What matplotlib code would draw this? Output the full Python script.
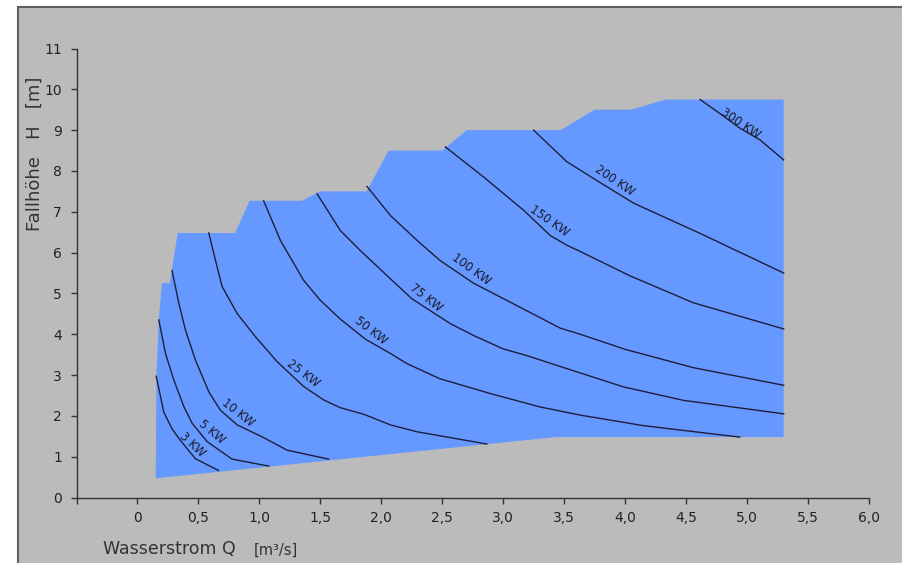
import matplotlib
matplotlib.use('Agg')
import matplotlib.pyplot as plt
from matplotlib.patches import Rectangle

# ---------------- data ----------------
# operating region (Q [m3/s], H [m])
region_Q = [0.15, 3.43, 5.30, 5.30, 4.33, 4.05, 3.75, 3.47, 2.70, 2.50, 2.06, 1.88,
            1.50, 1.35, 0.92, 0.80, 0.33, 0.265, 0.20, 0.175, 0.155, 0.15]
region_H = [0.47, 1.48, 1.48, 9.75, 9.75, 9.50, 9.50, 9.00, 9.00, 8.50, 8.50, 7.50,
            7.50, 7.27, 7.27, 6.48, 6.48, 5.25, 5.25, 4.35, 2.95, 0.47]

# iso-power lines
q_3kw = [0.154, 0.216, 0.284, 0.352, 0.475, 0.666]
h_3kw = [2.97, 2.09, 1.68, 1.40, 0.95, 0.66]

q_5kw = [0.175, 0.230, 0.298, 0.380, 0.448, 0.571, 0.776, 1.077]
h_5kw = [4.35, 3.53, 2.88, 2.23, 1.82, 1.37, 0.94, 0.77]

q_10kw = [0.284, 0.339, 0.393, 0.475, 0.585, 0.680, 0.817, 1.020, 1.227, 1.568]
h_10kw = [5.56, 4.76, 4.11, 3.37, 2.59, 2.14, 1.78, 1.49, 1.16, 0.94]

q_25kw = [0.585, 0.639, 0.694, 0.817, 0.967, 1.145, 1.363, 1.527, 1.664, 1.855, 2.074, 2.293, 2.866]
h_25kw = [6.48, 5.82, 5.17, 4.51, 3.94, 3.33, 2.72, 2.39, 2.20, 2.04, 1.78, 1.61, 1.31]

q_50kw = [1.035, 1.172, 1.363, 1.50, 1.664, 1.869, 2.074, 2.21, 2.48, 2.89, 3.30, 3.63, 4.15, 4.94]
h_50kw = [7.27, 6.30, 5.32, 4.83, 4.37, 3.88, 3.53, 3.28, 2.91, 2.55, 2.22, 2.02, 1.76, 1.48]

q_75kw = [1.473, 1.664, 1.828, 2.074, 2.25, 2.566, 2.757, 3.00, 3.19, 3.467, 3.986, 4.478, 5.30]
h_75kw = [7.44, 6.54, 6.05, 5.36, 4.87, 4.26, 3.97, 3.64, 3.48, 3.21, 2.71, 2.38, 2.05]

q_100kw = [1.883, 2.074, 2.293, 2.48, 2.757, 3.19, 3.467, 3.631, 4.00, 4.56, 5.30]
h_100kw = [7.62, 6.91, 6.30, 5.81, 5.25, 4.58, 4.15, 4.00, 3.63, 3.18, 2.75]

q_150kw = [2.525, 2.84, 3.17, 3.385, 3.522, 3.63, 4.04, 4.56, 5.30]
h_150kw = [8.59, 7.85, 7.03, 6.42, 6.18, 6.03, 5.43, 4.77, 4.13]

q_200kw = [3.249, 3.52, 3.77, 4.07, 4.615, 5.30]
h_200kw = [9.00, 8.23, 7.76, 7.21, 6.47, 5.50]

q_300kw = [4.615, 4.78, 4.94, 5.107, 5.30]
h_300kw = [9.75, 9.40, 9.05, 8.76, 8.27]

line_Q = [q_3kw, q_5kw, q_10kw, q_25kw, q_50kw, q_75kw, q_100kw, q_150kw, q_200kw, q_300kw]
line_H = [h_3kw, h_5kw, h_10kw, h_25kw, h_50kw, h_75kw, h_100kw, h_150kw, h_200kw, h_300kw]

label_text = ['3 KW', '5 KW', '10 KW', '25 KW', '50 KW', '75 KW', '100 KW', '150 KW', '200 KW', '300 KW']
label_Q = [0.448, 0.612, 0.821, 1.358, 1.915, 2.369, 2.735, 3.380, 3.910, 4.945]
label_H = [1.30, 1.60, 2.07, 3.05, 4.08, 4.89, 5.58, 6.77, 7.77, 9.17]
label_rot = [-43, -40, -38, -37, -38, -38, -36, -35, -34, -34]

x_ticks = [-0.5, 0.0, 0.5, 1.0, 1.5, 2.0, 2.5, 3.0, 3.5, 4.0, 4.5, 5.0, 5.5, 6.0]
x_ticklabels = ['', '0', '0,5', '1,0', '1,5', '2,0', '2,5', '3,0', '3,5', '4,0', '4,5', '5,0', '5,5', '6,0']
y_ticks = [0, 1, 2, 3, 4, 5, 6, 7, 8, 9, 10, 11]
y_ticklabels = ['0', '1', '2', '3', '4', '5', '6', '7', '8', '9', '10', '11']

# ---------------- style ----------------
W, H = 902, 563
GRAY = '#BBBBBB'
BLUE = '#6699FF'
LINE = '#1e1e3a'
AX = '#333333'
plt.rcParams['font.family'] = ['DejaVu Sans']

fig = plt.figure(figsize=(W / 100, H / 100), dpi=100)
fig.patch.set_facecolor('white')
bg = Rectangle((18 / W, -0.05), 1.2, (H - 7) / H + 0.05,
               transform=fig.transFigure, facecolor=GRAY,
               edgecolor='#606060', lw=1.5, zorder=-10)
fig.add_artist(bg)

ax = fig.add_axes([76.5 / W, 1 - 497.5 / H, (869 - 76.5) / W, (497.5 - 48.5) / H])
ax.set_zorder(5)
ax.patch.set_visible(False)

ax.fill(region_Q, region_H, color=BLUE, lw=0, zorder=1)
for q, h in zip(line_Q, line_H):
    ax.plot(q, h, color=LINE, lw=1.0, zorder=2, solid_joinstyle='round')
for t, q, h, r in zip(label_text, label_Q, label_H, label_rot):
    ax.text(q, h, t, rotation=r, rotation_mode='anchor', ha='center', va='center',
            fontsize=8.5, color='#1a1a2a', zorder=3)

ax.set_xlim(-0.5, 6.0)
ax.set_ylim(0, 11)
ax.set_xticks(x_ticks)
ax.set_xticklabels(x_ticklabels)
ax.set_yticks(y_ticks)
ax.set_yticklabels(y_ticklabels)
for s in ['top', 'right']:
    ax.spines[s].set_visible(False)
for s in ['left', 'bottom']:
    ax.spines[s].set_color(AX)
    ax.spines[s].set_linewidth(1.0)
ax.tick_params(axis='both', direction='out', length=4.5, width=1.0, color=AX,
               labelsize=10, labelcolor='#222222')
ax.tick_params(axis='y', pad=6)
ax.tick_params(axis='x', pad=5)

fig.text(103 / W, 1 - 549 / H, 'Wasserstrom Q', fontsize=12.5, color='#333333',
         ha='left', va='center')
fig.text(254 / W, 1 - 550 / H, '[m³/s]', fontsize=10.5, color='#333333',
         ha='left', va='center')
fig.text(35 / W, 1 - 154 / H, 'Fallhöhe   H   [m]', fontsize=13, color='#333333',
         rotation=90, ha='center', va='center')

fig.savefig('out.png', dpi=100, facecolor=fig.get_facecolor())
